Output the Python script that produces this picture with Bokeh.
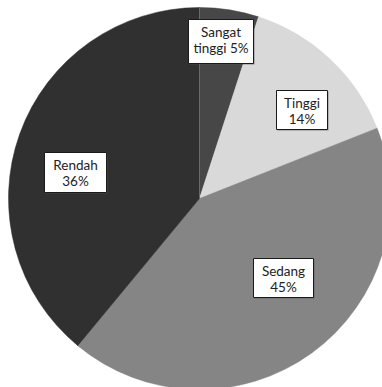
import math
from bokeh.plotting import figure
from bokeh.models import Range1d
from bokeh.core.properties import value
from bokeh.embed import file_html
from bokeh.resources import INLINE

# Data (slice order: clockwise from 12 o'clock)
categories = ["Sangat tinggi", "Tinggi", "Sedang", "Rendah"]
slice_shares = [5, 14, 42, 39]          # drawn proportions
label_percents = [5, 14, 45, 36]        # percentages printed in the labels
colors = ["#474747", "#d9d9d9", "#858585", "#303030"]

W, H = 382, 387
p = figure(width=W, height=H, output_backend="svg", toolbar_location=None,
           x_range=Range1d(0, W), y_range=Range1d(0, H), min_border=0)
p.axis.visible = False
p.grid.visible = False
p.outline_line_color = None
p.background_fill_color = "white"
p.border_fill_color = "white"

cx, cy, r = 199, H - 198, 191
total = float(sum(slice_shares))
starts, ends = [], []
acc = 0.0
for v in slice_shares:
    starts.append(math.pi / 2 - acc / total * 2 * math.pi)
    acc += v
    ends.append(math.pi / 2 - acc / total * 2 * math.pi)

p.wedge(x=[cx] * len(categories), y=[cy] * len(categories), radius=r,
        start_angle=starts, end_angle=ends, direction="clock",
        fill_color=colors, line_color=colors, line_width=0.5)
# thin light line at 12 o'clock
p.segment(x0=[cx], y0=[cy], x1=[cx], y1=[cy + r], line_color="#6a6a6a", line_width=1)

# label boxes (pixel layout, top-left origin)
boxes = [(188, 19, 253, 63), (276, 90, 327, 129), (253, 258, 313, 297), (44, 152, 106, 192)]
line1, line2 = [], []
for cat, pct in zip(categories, label_percents):
    parts = cat.split(" ")
    if len(parts) > 1:
        line1.append(parts[0])
        line2.append(" ".join(parts[1:]) + f" {pct}%")
    else:
        line1.append(cat)
        line2.append(f"{pct}%")

# shadows
p.quad(left=[b[0] + 1 for b in boxes], right=[b[2] + 1 for b in boxes],
       top=[H - b[1] - 1 for b in boxes], bottom=[H - b[3] - 1 for b in boxes],
       fill_color="#555555", line_color=None, fill_alpha=0.6)
p.quad(left=[b[0] for b in boxes], right=[b[2] for b in boxes],
       top=[H - b[1] for b in boxes], bottom=[H - b[3] for b in boxes],
       fill_color="white", line_color="#1a1a1a", line_width=1)

xs = [(b[0] + b[2]) / 2 for b in boxes]
y1 = [H - (b[1] + 12) for b in boxes]
y2 = [H - (b[1] + 28) for b in boxes]
p.text(x=xs, y=y1, text=line1, text_align="center", text_baseline="middle",
       text_font=value("Lato"), text_font_size="13.5px", text_color="#222222")
p.text(x=xs, y=y2, text=line2, text_align="center", text_baseline="middle",
       text_font=value("Lato"), text_font_size="13.5px", text_color="#222222")

open("out.html", "w").write(file_html(p, INLINE))
